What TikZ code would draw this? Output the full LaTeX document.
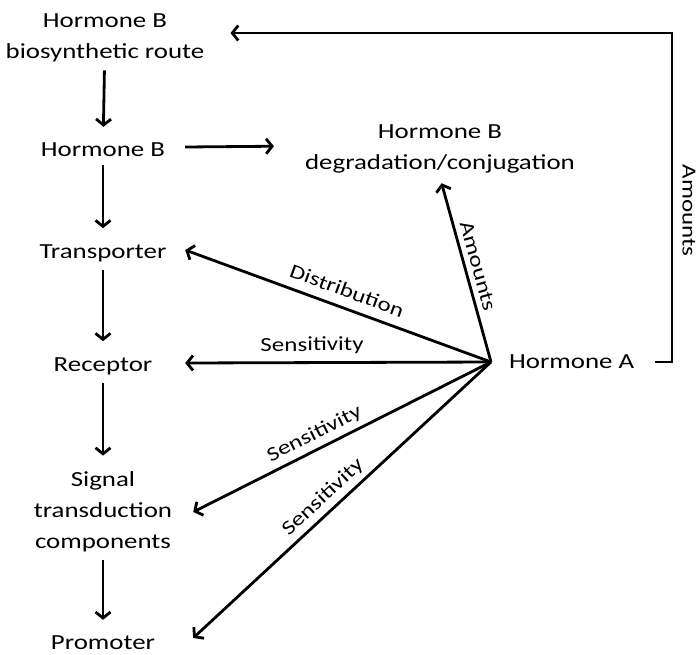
\documentclass[tikz,border=0pt]{standalone}
\usepackage{fontspec}
\setmainfont{Carlito}[FakeStretch=1.25]
\usepackage{tikz}
\usetikzlibrary{arrows.meta, positioning}
\tikzstyle{arrow} = [line width=2.8pt, -{Straight Barb[length=6pt,width=15pt]}]

\begin{document}
\begin{tikzpicture}[x=1pt, y=-1pt,
            stage/.style={minimum width=164pt, inner sep=4pt, align=center, font=\fontsize{21.5}{31}\selectfont},
            vstep/.style={arrow, shorten <=4pt, shorten >=12pt},
            tag/.style={font=\fontsize{20}{24}\selectfont, sloped, above, inner sep=5pt}]
            \useasboundingbox (0,0) rectangle (699,654);

            % Hormone B pathway
            \node[stage] (route) at (105,38) {Hormone B\\biosynthetic route};
            \node[stage] (hormB) at (103,150) {Hormone B};
            \node[stage] (trans) at (103,253) {Transporter};
            \node[stage] (recep) at (103,366) {Receptor};
            \node[stage] (signal) at (103,512) {Signal\\transduction\\components};
            \node[stage] (prom) at (103,643) {Promoter};
            \node[stage, minimum width=0pt] (degrad) at (440,149) {Hormone B\\degradation/conjugation};

            % Hormone A
            \coordinate (hub) at (491,362);
            \node[stage, minimum width=0pt, right=14pt of hub] (hormA) {Hormone A};
            \coordinate (rtop) at (672,33);

            % Arrows
            \draw[vstep] (route) -- (hormB);
            \draw[vstep] (hormB) -- (trans);
            \draw[vstep] (trans) -- (recep);
            \draw[vstep] (recep) -- (signal);
            \draw[vstep] (signal) -- (prom);
            \draw[arrow, shorten >=27pt] ([yshift=3pt]hormB.east) -- ([yshift=3pt]degrad.west);
            \draw[arrow, shorten <=17pt, shorten >=22pt] (hormA.east) -| node[pos=0.73, anchor=south, rotate=-90, font=\fontsize{20}{24}\selectfont, inner sep=9pt] {Amounts} (rtop) -- (rtop -| route.east);
            \draw[arrow, shorten >=6pt] (hub) -- node[tag, pos=0.5] {Amounts} (degrad.south);
            \draw[arrow] (hub) -- node[tag, pos=0.49, above=4pt] {Distribution} ([yshift=3pt]trans.east);
            \draw[arrow] (hub) -- node[tag, pos=0.585, above=2pt] {Sensitivity} ([yshift=3pt]recep.east);
            \draw[arrow] (hub) -- node[tag, pos=0.57] {Sensitivity} ([xshift=8pt]signal.east);
            \draw[arrow] (hub) -- node[tag, pos=0.53] {Sensitivity} ([xshift=8pt, yshift=5pt]prom.east);
        \end{tikzpicture}
\end{document}
